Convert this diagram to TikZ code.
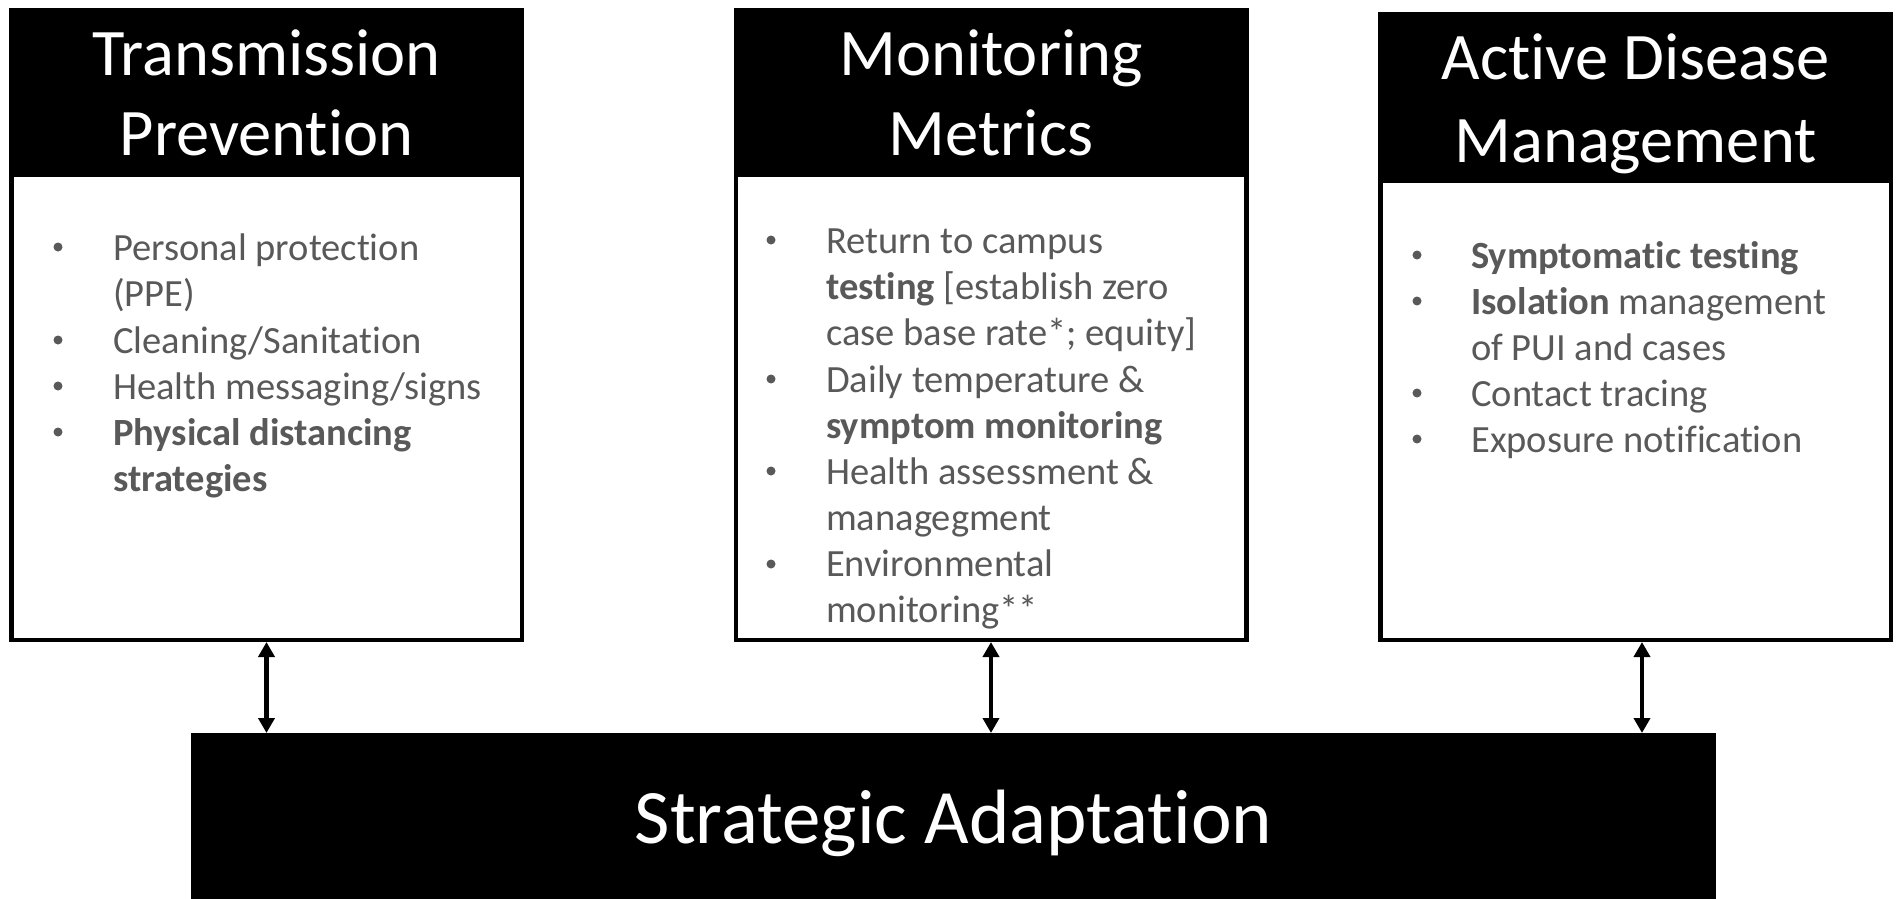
\documentclass[tikz,border=0pt]{standalone}
\usepackage{fontspec}
\setmainfont{Carlito}[Ligatures=NoCommon]
\usetikzlibrary{arrows.meta}
\definecolor{textgray}{RGB}{89,89,89}
\tikzset{
  panel/.style={rectangle, draw=black, fill=white, line width=4.5pt},
  headbar/.style={rectangle, fill=black, inner sep=0pt, outer sep=0pt},
  headtext/.style={font=\fontsize{66.5}{79}\selectfont, text=white, anchor=base, inner sep=0pt},
  body/.style={font=\fontsize{38.5}{46}\selectfont, text=textgray, anchor=base west, inner sep=0pt},
  dot/.style={circle, fill=textgray, inner sep=0pt, minimum size=9pt},
  link/.style={line width=4.5pt, {Triangle[length=15pt,width=16pt]}-{Triangle[length=15pt,width=16pt]}},
}
\begin{document}
\begin{tikzpicture}[x=1pt,y=-1pt]
\useasboundingbox[fill=white] (0,0) rectangle (1899,899);

% ---- Transmission Prevention ----
\node[panel, minimum width=510.5pt, minimum height=629.5pt] (tp) at (266.5,325) {};
\node[headbar, minimum width=515pt, minimum height=169pt] (tph) at (266.5,92.5) {};
\node[headtext] (tpt1) at (266.5,76) {Transmission};
\node[headtext] (tpt2) at (266.5,155) {Prevention};
\node[dot] (tpd1) at (58,247) {};
\node[dot] (tpd2) at (58,340) {};
\node[dot] (tpd3) at (58,386) {};
\node[dot] (tpd4) at (58,432) {};
\node[body] (tpl1) at (113,260) {Personal protection};
\node[body] (tpl2) at (113,306) {(PPE)};
\node[body] (tpl3) at (113,353) {Cleaning/Sanitation};
\node[body] (tpl4) at (113,399) {Health messaging/signs};
\node[body] (tpl5) at (113,445) {\bfseries Physical distancing};
\node[body] (tpl6) at (113,491) {\bfseries strategies};

% ---- Monitoring Metrics ----
\node[panel, minimum width=510.5pt, minimum height=629.5pt] (mm) at (991,325) {};
\node[headbar, minimum width=515pt, minimum height=169pt] (mmh) at (991,92.5) {};
\node[headtext] (mmt1) at (991,76) {Monitoring};
\node[headtext] (mmt2) at (991,155) {Metrics};
\node[dot] (mmd1) at (771,240) {};
\node[dot] (mmd2) at (771,379) {};
\node[dot] (mmd3) at (771,471) {};
\node[dot] (mmd4) at (771,564) {};
\node[body] (mml1) at (826,253) {Return to campus};
\node[body] (mml2) at (826,299) {\textbf{testing} [establish zero};
\node[body] (mml3) at (826,345) {case base rate*; equity]};
\node[body] (mml4) at (826,392) {Daily temperature \&};
\node[body] (mml5) at (826,438) {\bfseries symptom monitoring};
\node[body] (mml6) at (826,484) {Health assessment \&};
\node[body] (mml7) at (826,530) {managegment};
\node[body] (mml8) at (826,576) {Environmental};
\node[body] (mml9) at (826,622) {monitoring**};

% ---- Active Disease Management ----
\node[panel, minimum width=510.5pt, minimum height=625.5pt] (ad) at (1635.5,327) {};
\node[headbar, minimum width=515pt, minimum height=171pt] (adh) at (1635.5,97.5) {};
\node[headtext] (adt1) at (1635.5,80) {Active Disease};
\node[headtext] (adt2) at (1635.5,162) {Management};
\node[dot] (add1) at (1417,255) {};
\node[dot] (add2) at (1417,301) {};
\node[dot] (add3) at (1417,393) {};
\node[dot] (add4) at (1417,439) {};
\node[body] (adl1) at (1471,268) {\bfseries Symptomatic testing};
\node[body] (adl2) at (1471,314) {\textbf{Isolation} management};
\node[body] (adl3) at (1471,360) {of PUI and cases};
\node[body] (adl4) at (1471,406) {Contact tracing};
\node[body] (adl5) at (1471,452) {Exposure notification};

% ---- Strategic Adaptation ----
\node[headbar, minimum width=1525pt, minimum height=180pt, anchor=north] (sa) at (953.5,733) {};
\node[font=\fontsize{77}{92}\selectfont, text=white, anchor=base, inner sep=0pt] (sat) at (953.5,843) {Strategic Adaptation};

% ---- two-way links ----
\draw[link] (tp.south) -- (tp.south |- sa.north);
\draw[link] (mm.south) -- (mm.south |- sa.north);
\draw[link] ([xshift=6.5pt]ad.south) -- ([xshift=6.5pt]ad.south |- sa.north);
\end{tikzpicture}
\end{document}
